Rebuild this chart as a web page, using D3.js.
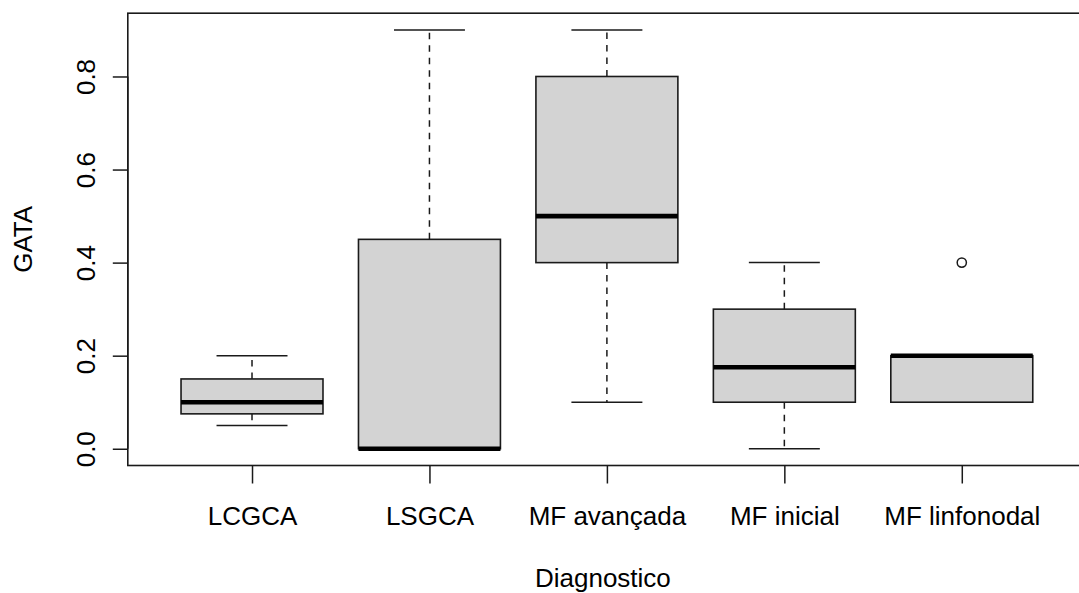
<!DOCTYPE html>
<html>
<head>
<meta charset="utf-8">
<script src="https://cdn.jsdelivr.net/npm/d3@7"></script>
<style>
  html, body { margin: 0; padding: 0; background: #fff; }
  svg { display: block; font-family: "Liberation Sans", Arial, Helvetica, sans-serif; }
</style>
</head>
<body>
<svg id="chart" width="1079" height="593"></svg>
<script>
// ---- data ----
const categories = ["LCGCA", "LSGCA", "MF avançada", "MF inicial", "MF linfonodal"];
const whiskerLow  = [0.05, 0.00, 0.10, 0.00, 0.10];
const q1          = [0.075, 0.00, 0.40, 0.10, 0.10];
const median      = [0.10, 0.00, 0.50, 0.175, 0.20];
const q3          = [0.15, 0.45, 0.80, 0.30, 0.20];
const whiskerHigh = [0.20, 0.90, 0.90, 0.40, 0.20];
const outliers    = [[], [], [], [], [0.40]];
const yTicks = [0.0, 0.2, 0.4, 0.6, 0.8];
const xTitle = "Diagnostico";
const yTitle = "GATA";

(function () {
// ---- layout ----
const svg = d3.select("#chart");
const pLeft = 127.8, pRight = 1086, pTop = 13.2, pBottom = 465.5;
const fontSize = 26;
const lineCol = "#1a1a1a";

const x = d3.scaleLinear().domain([0.3, categories.length + 0.7]).range([pLeft, pRight]);
const y = d3.scaleLinear().domain([-0.036, 0.936]).range([pBottom, pTop]);
const step = x(2) - x(1);
const boxW = step * 0.8;
const capW = boxW * 0.5;

const data = categories.map((c, i) => ({
  c, i, pos: i + 1,
  lo: whiskerLow[i], q1: q1[i], med: median[i], q3: q3[i], hi: whiskerHigh[i], out: outliers[i]
}));

const g = svg.append("g");
const bx = g.selectAll("g.box").data(data).join("g").attr("class", "box");

// whiskers (dashed)
bx.append("line")
  .attr("x1", d => x(d.pos)).attr("x2", d => x(d.pos))
  .attr("y1", d => y(d.q3)).attr("y2", d => y(d.hi))
  .attr("stroke", lineCol).attr("stroke-width", 1.5).attr("stroke-dasharray", "6.5,6");
bx.append("line")
  .attr("x1", d => x(d.pos)).attr("x2", d => x(d.pos))
  .attr("y1", d => y(d.q1)).attr("y2", d => y(d.lo))
  .attr("stroke", lineCol).attr("stroke-width", 1.5).attr("stroke-dasharray", "6.5,6");
// caps
bx.append("line")
  .attr("x1", d => x(d.pos) - capW / 2).attr("x2", d => x(d.pos) + capW / 2)
  .attr("y1", d => y(d.hi)).attr("y2", d => y(d.hi))
  .attr("stroke", lineCol).attr("stroke-width", 1.5);
bx.append("line")
  .attr("x1", d => x(d.pos) - capW / 2).attr("x2", d => x(d.pos) + capW / 2)
  .attr("y1", d => y(d.lo)).attr("y2", d => y(d.lo))
  .attr("stroke", lineCol).attr("stroke-width", 1.5);
// box
bx.append("rect")
  .attr("x", d => x(d.pos) - boxW / 2).attr("width", boxW)
  .attr("y", d => y(d.q3)).attr("height", d => Math.max(0.01, y(d.q1) - y(d.q3)))
  .attr("fill", "#d3d3d3").attr("stroke", lineCol).attr("stroke-width", 1.6);
// median
bx.append("line")
  .attr("x1", d => x(d.pos) - boxW / 2).attr("x2", d => x(d.pos) + boxW / 2)
  .attr("y1", d => y(d.med)).attr("y2", d => y(d.med))
  .attr("stroke", "#000").attr("stroke-width", 4.6);
// outliers
bx.selectAll("circle").data(d => d.out.map(v => ({ v, pos: d.pos }))).join("circle")
  .attr("cx", d => x(d.pos)).attr("cy", d => y(d.v)).attr("r", 4.6)
  .attr("fill", "none").attr("stroke", lineCol).attr("stroke-width", 1.5);

// frame
svg.append("rect")
  .attr("x", pLeft).attr("y", pTop).attr("width", pRight - pLeft).attr("height", pBottom - pTop)
  .attr("fill", "none").attr("stroke", lineCol).attr("stroke-width", 1.6);

// y axis
const yAxis = d3.axisLeft(y).tickValues(yTicks).tickFormat(d3.format(".1f")).tickSize(15).tickPadding(0);
const ya = svg.append("g").attr("transform", `translate(${pLeft},0)`).call(yAxis);
ya.select(".domain").attr("d", `M0,${y(yTicks[0])}V${y(yTicks[yTicks.length - 1])}`)
  .attr("stroke", lineCol).attr("stroke-width", 1.5);
ya.selectAll(".tick line").attr("stroke", lineCol).attr("stroke-width", 1.5);
ya.selectAll(".tick text")
  .attr("font-size", fontSize).attr("font-family", "Liberation Sans, Arial, sans-serif")
  .attr("fill", "#000")
  .attr("x", null).attr("dy", null)
  .attr("text-anchor", "middle")
  .attr("transform", "translate(-32.5,0) rotate(-90)");

// x axis
const xAxis = d3.axisBottom(x).tickValues(data.map(d => d.pos))
  .tickFormat((d, i) => categories[i]).tickSize(18).tickPadding(0);
const xa = svg.append("g").attr("transform", `translate(0,${pBottom})`).call(xAxis);
xa.select(".domain").remove();
xa.selectAll(".tick line").attr("stroke", lineCol).attr("stroke-width", 1.5);
xa.selectAll(".tick text")
  .attr("font-size", fontSize).attr("font-family", "Liberation Sans, Arial, sans-serif")
  .attr("fill", "#000")
  .attr("y", 59.5).attr("dy", null);

// titles
svg.append("text")
  .attr("x", (pLeft + pRight) / 2 - 4).attr("y", 587)
  .attr("text-anchor", "middle").attr("font-size", fontSize).attr("fill", "#000")
  .text(xTitle);
svg.append("text")
  .attr("transform", `translate(32,${(pTop + pBottom) / 2}) rotate(-90)`)
  .attr("text-anchor", "middle").attr("font-size", fontSize).attr("fill", "#000")
  .text(yTitle);
})();
</script>
</body>
</html>
